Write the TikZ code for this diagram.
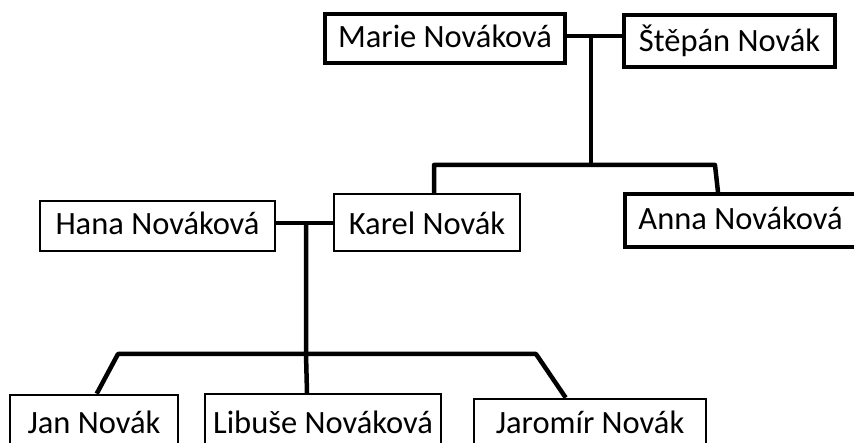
\documentclass[tikz,border=0pt]{standalone}
\usepackage{fontspec}
\setmainfont{Carlito}
\usetikzlibrary{calc}
\begin{document}
\begin{tikzpicture}[x=1pt,y=-1pt,
  person/.style={draw, inner sep=0pt, anchor=base, font=\fontsize{32.5}{39}\selectfont, line join=miter},
  thickbox/.style={person, line width=4pt},
  thinbox/.style={person, line width=2pt},
  midbox/.style={person, line width=2.6pt},
  link/.style={line width=4.5pt, line join=round}]
\useasboundingbox (0,0) rectangle (854,443);
\clip (0,0) rectangle (854,443);
\fill[white] (0,0) rectangle (854,443);
% people
\node[thickbox, minimum width=240pt, text height=34pt, text depth=15pt] (marie) at (445,48) {Marie Nováková};
\node[thickbox, minimum width=211pt, text height=37pt, text depth=15pt] (stepan) at (729.5,52) {Štěpán Novák};
\node[thinbox, minimum width=186pt, text height=41pt, text depth=16pt] (karel) at (427,235) {Karel Novák};
\node[thickbox, minimum width=231pt, text height=36pt, text depth=17pt] (anna) at (740.5,230) {Anna Nováková};
\node[thinbox, minimum width=235pt, text height=34pt, text depth=16pt] (hana) at (157.5,235) {Hana Nováková};
\node[midbox, minimum width=168pt, text height=38pt, text depth=27pt] (jan) at (94,433) {Jan Novák};
\node[thinbox, minimum width=236pt, text height=39pt, text depth=27pt] (libuse) at (323,433) {Libuše Nováková};
\node[midbox, minimum width=232pt, text height=34pt, text depth=27pt] (jaromir) at (590,433) {Jaromír Novák};
% junction points
\coordinate (mj) at (591,36);
\coordinate (b1) at (591,165);
\coordinate (b1l) at (434,165);
\coordinate (b1r) at (715,165);
\coordinate (hk) at (306,223);
\coordinate (b2) at (306,354);
\coordinate (b2l) at (118,354);
\coordinate (b2r) at (536,354);
% upper family
\draw[link] (marie.east |- mj) -- (mj -| stepan.west);
\draw[link] (mj) -- (b1);
\draw[link] (b1l |- karel.north) -- (b1l) -- (b1r) -- ($(anna.north west)+(95,0)$);
% lower family
\draw[link] (hana.east |- hk) -- (hk -| karel.west);
\draw[link] (hk) -- (b2) -- ($(libuse.north west)+(103,0)$);
\draw[link] ($(jan.north west)+(88,0)$) -- (b2l) -- (b2r) -- ($(jaromir.north west)+(93,0)$);
\end{tikzpicture}
\end{document}
